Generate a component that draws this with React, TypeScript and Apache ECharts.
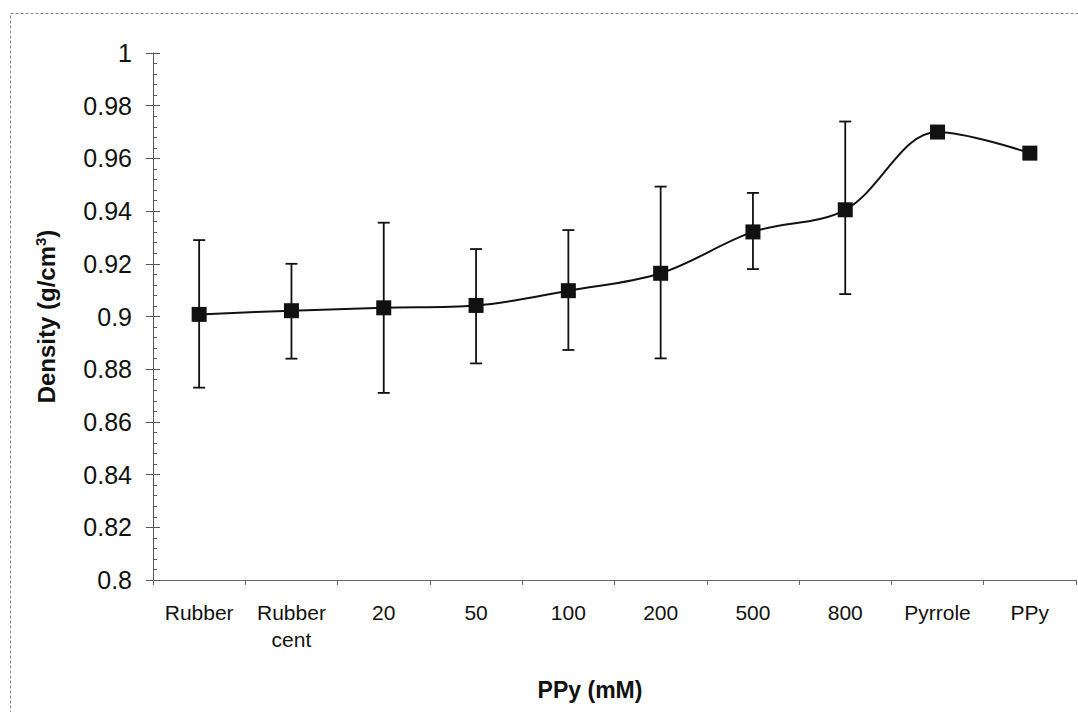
import React, { useEffect, useRef } from 'react';
import * as echarts from 'echarts';

const categories = ['Rubber', 'Rubber\ncent', '20', '50', '100', '200', '500', '800', 'Pyrrole', 'PPy'];
const density = [0.9008, 0.9022, 0.9033, 0.9042, 0.9098, 0.9164, 0.9321, 0.9405, 0.97, 0.962];
const errLow = [0.0278, 0.0182, 0.0323, 0.022, 0.0225, 0.0323, 0.0141, 0.032, 0, 0];
const errHigh = [0.0282, 0.0178, 0.0323, 0.0214, 0.023, 0.0329, 0.0148, 0.0335, 0, 0];
const yMin = 0.8;
const yMax = 1.0;
const yStep = 0.02;

export default function App() {
  const ref = useRef<HTMLDivElement>(null);
  useEffect(() => {
    if (!ref.current) return;
    const chart = echarts.init(ref.current, null, { renderer: 'svg' });
    const errData = categories
      .map((_, i) => [i, density[i] - errLow[i], density[i] + errHigh[i]])
      .filter((_, i) => errLow[i] > 0 || errHigh[i] > 0);
    const font = 'Liberation Sans, Arial, sans-serif';
    const fmt = (v: number) => String(+v.toFixed(2));
    chart.setOption({
      animation: false,
      backgroundColor: '#fff',
      graphic: [
        {
          type: 'rect',
          shape: { x: 10.5, y: 13.5, width: 1100, height: 760 },
          style: { fill: 'none', stroke: '#888', lineWidth: 1, lineDash: [3, 2] },
          silent: true,
        },
        {
          type: 'text',
          x: 590,
          y: 690,
          style: {
            text: 'PPy (mM)',
            font: `bold 23px ${font}`,
            fill: '#111',
            align: 'center',
            verticalAlign: 'middle',
          },
        },
      ],
      grid: { left: 153, right: 2, top: 53, bottom: 132, containLabel: false },
      xAxis: {
        type: 'category',
        data: categories,
        boundaryGap: true,
        axisLine: { show: true, lineStyle: { color: '#666', width: 1 } },
        axisTick: { show: true, length: 5, inside: false, lineStyle: { color: '#666' } },
        axisLabel: {
          fontFamily: font,
          fontSize: 21,
          color: '#111',
          margin: 19,
          lineHeight: 27,
          interval: 0,
        },
        splitLine: { show: false },
      },
      yAxis: [
        {
          type: 'value',
          min: yMin,
          max: yMax,
          interval: yStep,
          axisLine: { show: true, lineStyle: { color: '#555', width: 1 } },
          axisTick: { show: true, length: 7, inside: false, lineStyle: { color: '#555' } },
          axisLabel: {
            fontFamily: font,
            fontSize: 25,
            color: '#111',
            margin: 21,
            formatter: fmt,
          },
          splitLine: { show: false },
          name: '{a|Density (g/cm}{s|3}{a|)}',
          nameLocation: 'middle',
          nameRotate: 90,
          nameGap: 94,
          nameTextStyle: {
            rich: {
              a: { fontFamily: font, fontSize: 24, fontWeight: 'bold', color: '#111' },
              s: {
                fontFamily: font,
                fontSize: 15,
                fontWeight: 'bold',
                color: '#111',
                verticalAlign: 'top',
                padding: [0, 0, 11, 0],
              },
            },
          },
        },
        {
          type: 'value',
          min: yMin,
          max: yMax,
          interval: yStep,
          position: 'left',
          axisLine: { show: false },
          axisTick: { show: true, length: 7, inside: true, lineStyle: { color: '#555' } },
          minorTick: { show: true, splitNumber: 5, length: 4, lineStyle: { color: '#555' } },
          axisLabel: { show: false },
          splitLine: { show: false },
        },
      ],
      series: [
        {
          type: 'custom',
          z: 1,
          data: errData,
          encode: { x: 0, y: [1, 2] },
          renderItem: (params: any, api: any) => {
            const idx = api.value(0);
            const lo = api.coord([idx, api.value(1)]);
            const hi = api.coord([idx, api.value(2)]);
            const hw = 6;
            const st = { stroke: '#111', lineWidth: 1.8 };
            return {
              type: 'group',
              children: [
                { type: 'line', shape: { x1: lo[0], y1: lo[1], x2: hi[0], y2: hi[1] }, style: st },
                { type: 'line', shape: { x1: lo[0] - hw, y1: lo[1], x2: lo[0] + hw, y2: lo[1] }, style: st },
                { type: 'line', shape: { x1: hi[0] - hw, y1: hi[1], x2: hi[0] + hw, y2: hi[1] }, style: st },
              ],
            };
          },
        },
        {
          type: 'line',
          z: 3,
          data: density,
          smooth: 0.35,
          symbol: 'rect',
          symbolSize: 15,
          lineStyle: { color: '#111', width: 2 },
          itemStyle: { color: '#111' },
        },
      ],
    });
    return () => chart.dispose();
  }, []);
  return (
    <div
      ref={ref}
      style={{ position: 'fixed', left: 0, top: 0, width: 1078, height: 712, background: '#fff' }}
    />
  );
}
